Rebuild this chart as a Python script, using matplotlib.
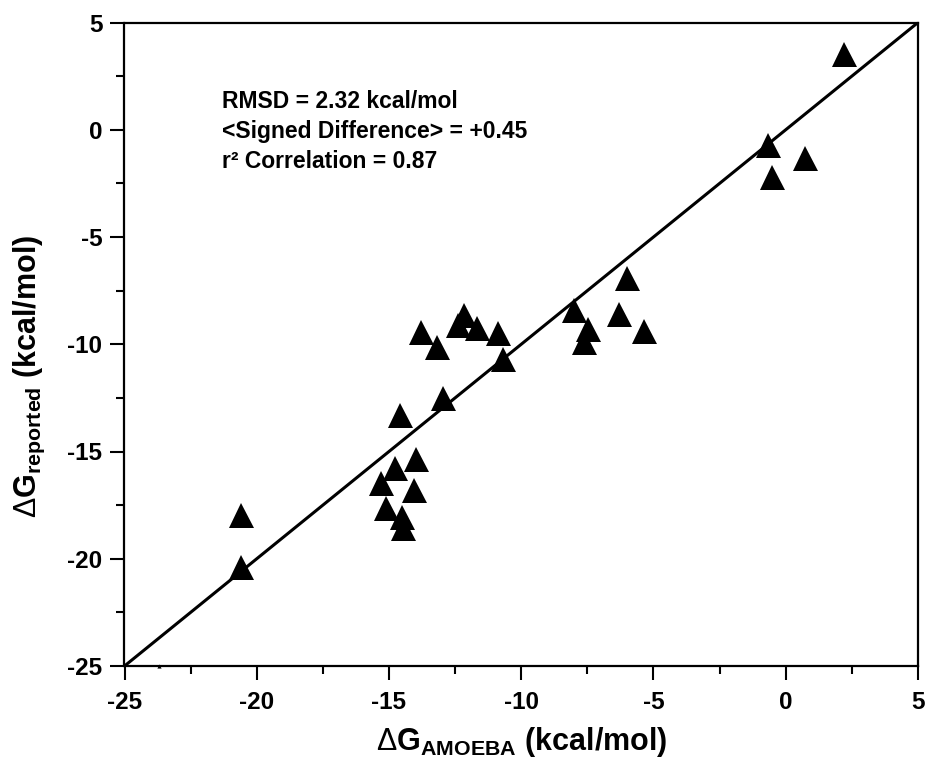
import matplotlib
matplotlib.use("Agg")
import matplotlib.pyplot as plt
from matplotlib.ticker import MultipleLocator

plt.rcParams['font.family'] = ['Liberation Sans', 'DejaVu Sans']
plt.rcParams['font.weight'] = 'bold'
plt.rcParams['axes.unicode_minus'] = False
plt.rcParams['mathtext.fontset'] = 'custom'
plt.rcParams['mathtext.rm'] = 'Liberation Sans:weight=normal'
plt.rcParams['mathtext.bf'] = 'Liberation Sans:weight=bold'
plt.rcParams['mathtext.it'] = 'Liberation Sans:italic'

# Data: (dG_AMOEBA, dG_reported) in kcal/mol
dg_amoeba = [2.2, 0.73, -0.67, -0.51, -5.99, -6.30, -5.35, -8.01, -7.46, -7.62,
             -12.16, -12.38, -11.68, -10.87, -13.80, -13.17, -10.68, -12.97,
             -14.58, -13.98, -14.77, -15.31, -14.05, -15.11, -14.50, -14.46,
             -20.61, -20.61]
dg_reported = [3.55, -1.32, -0.71, -2.22, -6.93, -8.59, -9.37, -8.40, -9.30, -9.88,
               -8.64, -9.10, -9.26, -9.49, -9.41, -10.11, -10.70, -12.52,
               -13.30, -15.35, -15.75, -16.48, -16.80, -17.62, -18.04, -18.58,
               -17.96, -20.40]
stray_x = [-23.68]
stray_y = [-25.0]
line_ends = [-25, 5]

stats_lines = ["RMSD = 2.32 kcal/mol",
               "<Signed Difference> = +0.45",
               "r\u00b2 Correlation = 0.87"]

fig = plt.figure(figsize=(9.29, 7.77), dpi=100)
ax = fig.add_axes([124.5/929, (777-666)/777, 793.5/929, 643.5/777])

ax.plot(line_ends, line_ends, color='black', lw=2.2, zorder=2)
ax.plot(dg_amoeba, dg_reported, linestyle='none', marker='^', ms=18,
        color='black', markeredgewidth=0, zorder=3)
ax.plot(stray_x, stray_y, linestyle='none', marker='^', ms=3,
        color='black', markeredgewidth=0, zorder=3, clip_on=False)

ax.set_xlim(-25, 5)
ax.set_ylim(-25, 5)
ax.xaxis.set_major_locator(MultipleLocator(5))
ax.xaxis.set_minor_locator(MultipleLocator(2.5))
ax.yaxis.set_major_locator(MultipleLocator(5))
ax.yaxis.set_minor_locator(MultipleLocator(2.5))
ax.tick_params(which='major', direction='out', length=10, width=1.5,
               labelsize=17.5)
ax.tick_params(axis='x', which='major', pad=8)
ax.tick_params(axis='y', which='major', pad=6)
ax.tick_params(which='minor', direction='out', length=5.5, width=1.5)
for sp in ax.spines.values():
    sp.set_linewidth(1.6)

ax.set_xlabel(r'$\Delta\mathbf{G}_{\mathbf{AMOEBA}}$ (kcal/mol)',
              fontsize=22, fontweight='bold', labelpad=8)
ax.set_ylabel(r'$\Delta\mathbf{G}_{\mathbf{reported}}$ (kcal/mol)',
              fontsize=22, fontweight='bold')
ax.yaxis.set_label_coords(-0.098, 0.45)

ax.text(0.123, 0.895, "\n".join(stats_lines), transform=ax.transAxes,
        fontsize=16.5, fontweight='bold', va='top', ha='left', linespacing=1.4)

fig.savefig("out.png", dpi=100)
